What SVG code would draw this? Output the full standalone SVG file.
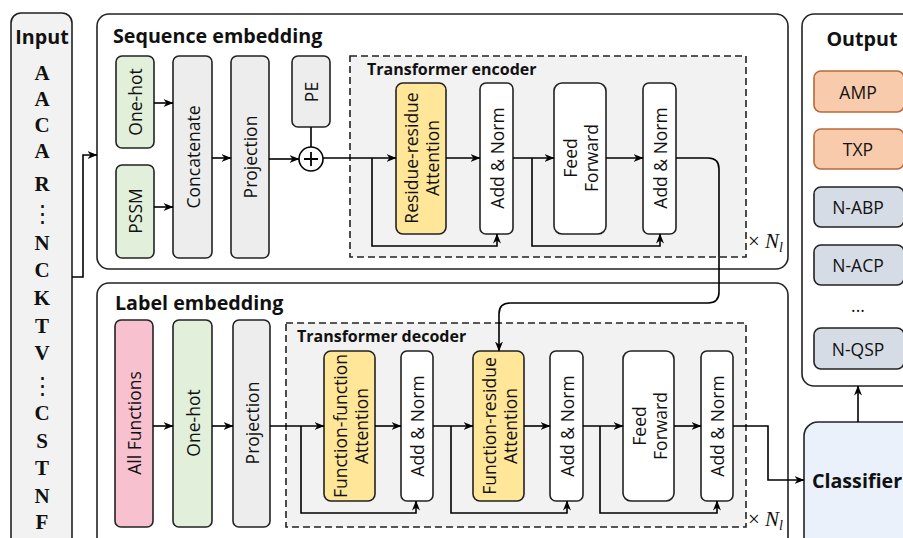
<svg xmlns="http://www.w3.org/2000/svg" width="903" height="538" viewBox="0 0 903 538">
<defs>
<marker id="ah" viewBox="0 0 10 8" refX="9.5" refY="4" markerWidth="10" markerHeight="8" markerUnits="userSpaceOnUse" orient="auto">
<path d="M0,0 L10,4 L0,8 L3,4 z" fill="#000"/>
</marker>
<style>
.panel{fill:#fff;stroke:#222;stroke-width:1.6}
.box{stroke:#222;stroke-width:1.6}
.gray{fill:#ededed}
.green{fill:#e2efda}
.pink{fill:#f8c1d0}
.yellow{fill:#ffe699}
.white{fill:#fff}
.orange{fill:#f8cbad;stroke:#b8683a;stroke-width:1.6}
.bluegray{fill:#d6dce5;stroke:#222;stroke-width:1.6}
.dash{fill:#f2f2f2;stroke:#222;stroke-width:1.6;stroke-dasharray:7,4}
.t{font-family:"Open Sans","Liberation Sans",sans-serif;font-size:17.5px;fill:#111;text-anchor:middle;dominant-baseline:central}
.title{font-family:"Open Sans","Liberation Sans",sans-serif;font-size:19.7px;font-weight:bold;fill:#111}
.sub{font-family:"Open Sans","Liberation Sans",sans-serif;font-size:16px;font-weight:bold;fill:#111}
.aa{font-family:"Liberation Serif","DejaVu Serif",serif;font-size:21px;font-weight:bold;fill:#111;text-anchor:middle;dominant-baseline:central}
.vd{font-family:"DejaVu Serif",serif;font-size:23px;fill:#111;text-anchor:middle;dominant-baseline:central}
.nl{font-family:"Liberation Serif","DejaVu Serif",serif;font-size:21px;fill:#111}
.c{fill:none;stroke:#000;stroke-width:1.6}
</style>
</defs>

<g id="input">
<rect x="11" y="13" width="61" height="540" rx="10" fill="#f2f2f2" stroke="#222" stroke-width="1.6"/>
<text class="title" x="42" y="44" text-anchor="middle">Input</text>
<text class="aa" x="42" y="73">A</text>
<text class="aa" x="42" y="99">A</text>
<text class="aa" x="42" y="125">C</text>
<text class="aa" x="42" y="151">A</text>
<text class="aa" x="42" y="184">R</text>
<text class="vd" x="42" y="213">⋮</text>
<text class="aa" x="42" y="243">N</text>
<text class="aa" x="42" y="270">C</text>
<text class="aa" x="42" y="298">K</text>
<text class="aa" x="42" y="326">T</text>
<text class="aa" x="42" y="353">V</text>
<text class="vd" x="42" y="385">⋮</text>
<text class="aa" x="42" y="413">C</text>
<text class="aa" x="42" y="441">S</text>
<text class="aa" x="42" y="468">T</text>
<text class="aa" x="42" y="496">N</text>
<text class="aa" x="42" y="522">F</text>
</g>

<g id="sequence-embedding">
<rect class="panel" x="97" y="14" width="691" height="255" rx="12"/>
<text class="title" x="113" y="43">Sequence embedding</text>
</g>
<g id="seq-onehot"><rect class="box green" x="116" y="56" width="38" height="92" rx="6"/><text class="t" transform="translate(135,102) rotate(-90)">One-hot</text></g>
<g id="seq-pssm"><rect class="box green" x="116" y="165" width="38" height="93" rx="6"/><text class="t" transform="translate(135,211) rotate(-90)">PSSM</text></g>
<g id="seq-concat"><rect class="box gray" x="173" y="56" width="39" height="202" rx="6"/><text class="t" transform="translate(192.5,157) rotate(-90)">Concatenate</text></g>
<g id="seq-proj"><rect class="box gray" x="231" y="56" width="38" height="202" rx="6"/><text class="t" transform="translate(250,157) rotate(-90)">Projection</text></g>
<g id="seq-pe"><rect class="box gray" x="292" y="56" width="38" height="71" rx="6"/><text class="t" transform="translate(311,92) rotate(-90)">PE</text></g>
<g id="seq-plus"><circle cx="311" cy="159" r="12" fill="#fff" stroke="#000" stroke-width="1.6"/><path d="M304,159 H318 M311,152 V166" stroke="#000" stroke-width="1.8"/></g>

<g id="transformer-encoder">
<rect class="dash" x="350" y="56" width="396" height="201"/>
<text class="sub" x="367" y="75">Transformer encoder</text>
<text class="nl" x="748" y="248">× <tspan font-style="italic">N</tspan><tspan font-style="italic" font-size="14" dy="4">l</tspan></text>
</g>
<g id="enc-attn"><rect class="box yellow" x="396" y="83" width="50" height="151" rx="7"/><text class="t" transform="translate(421,158) rotate(-90)"><tspan x="0" dy="-10">Residue-residue</tspan><tspan x="0" dy="21">Attention</tspan></text></g>
<g id="enc-norm1"><rect class="box white" x="480" y="83" width="33" height="151" rx="6"/><text class="t" transform="translate(496.5,158) rotate(-90)">Add &amp; Norm</text></g>
<g id="enc-ff"><rect class="box white" x="554" y="83" width="52" height="151" rx="8"/><text class="t" transform="translate(580,158) rotate(-90)"><tspan x="0" dy="-10">Feed</tspan><tspan x="0" dy="21">Forward</tspan></text></g>
<g id="enc-norm2"><rect class="box white" x="643" y="83" width="33" height="151" rx="6"/><text class="t" transform="translate(659.5,158) rotate(-90)">Add &amp; Norm</text></g>

<g id="label-embedding">
<rect class="panel" x="97" y="283" width="691" height="270" rx="12"/>
<text class="title" x="115" y="310">Label embedding</text>
</g>
<g id="lab-all"><rect class="box pink" x="115" y="320" width="38" height="207" rx="6"/><text class="t" transform="translate(134,423) rotate(-90)">All Functions</text></g>
<g id="lab-onehot"><rect class="box green" x="173" y="320" width="39" height="207" rx="6"/><text class="t" transform="translate(192.5,423) rotate(-90)">One-hot</text></g>
<g id="lab-proj"><rect class="box gray" x="233" y="320" width="37" height="207" rx="6"/><text class="t" transform="translate(251.5,423) rotate(-90)">Projection</text></g>

<g id="transformer-decoder">
<rect class="dash" x="286" y="323" width="460" height="204"/>
<text class="sub" x="297" y="342">Transformer decoder</text>
<text class="nl" x="748" y="526">× <tspan font-style="italic">N</tspan><tspan font-style="italic" font-size="14" dy="4">l</tspan></text>
</g>
<g id="dec-ffattn"><rect class="box yellow" x="324" y="351" width="51" height="150" rx="7"/><text class="t" transform="translate(349.5,426) rotate(-90)"><tspan x="0" dy="-10">Function-function</tspan><tspan x="0" dy="21">Attention</tspan></text></g>
<g id="dec-norm1"><rect class="box white" x="401" y="351" width="32" height="150" rx="6"/><text class="t" transform="translate(417,426) rotate(-90)">Add &amp; Norm</text></g>
<g id="dec-frattn"><rect class="box yellow" x="473" y="351" width="51" height="150" rx="7"/><text class="t" transform="translate(498.5,426) rotate(-90)"><tspan x="0" dy="-10">Function-residue</tspan><tspan x="0" dy="21">Attention</tspan></text></g>
<g id="dec-norm2"><rect class="box white" x="550" y="351" width="33" height="150" rx="6"/><text class="t" transform="translate(566.5,426) rotate(-90)">Add &amp; Norm</text></g>
<g id="dec-ff"><rect class="box white" x="623" y="351" width="51" height="150" rx="8"/><text class="t" transform="translate(648.5,426) rotate(-90)"><tspan x="0" dy="-10">Feed</tspan><tspan x="0" dy="21">Forward</tspan></text></g>
<g id="dec-norm3"><rect class="box white" x="701" y="351" width="32" height="150" rx="6"/><text class="t" transform="translate(717,426) rotate(-90)">Add &amp; Norm</text></g>

<g id="output">
<rect class="panel" x="802" y="14" width="120" height="372" rx="12"/>
<text class="title" x="862" y="46" text-anchor="middle">Output</text>
</g>
<g id="out-amp"><rect class="orange" x="814" y="71" width="90" height="41" rx="7"/><text class="t" x="858" y="91.5">AMP</text></g>
<g id="out-txp"><rect class="orange" x="814" y="129" width="90" height="40" rx="7"/><text class="t" x="858" y="149">TXP</text></g>
<g id="out-nabp"><rect class="bluegray" x="814" y="187" width="90" height="40" rx="7"/><text class="t" x="858" y="207">N-ABP</text></g>
<g id="out-nacp"><rect class="bluegray" x="814" y="245" width="90" height="40" rx="7"/><text class="t" x="858" y="265">N-ACP</text></g>
<g id="out-dots"><text class="t" x="858" y="305">...</text></g>
<g id="out-nqsp"><rect class="bluegray" x="814" y="328" width="90" height="41" rx="7"/><text class="t" x="858" y="348.5">N-QSP</text></g>

<g id="classifier">
<rect x="804" y="422" width="120" height="130" rx="14" fill="#eaf1fa" stroke="#222" stroke-width="1.6"/>
<text class="title" x="857" y="488" text-anchor="middle" font-size="18">Classifier</text>
</g>

<g id="connectors" class="c">
<path class="c" d="M72,277 H83 V155 H97" marker-end="url(#ah)"/>
<path class="c" d="M154,103 H173" marker-end="url(#ah)"/>
<path class="c" d="M154,207 H173" marker-end="url(#ah)"/>
<path class="c" d="M212,158 H231" marker-end="url(#ah)"/>
<path class="c" d="M269,159 H299" marker-end="url(#ah)"/>
<path class="c" d="M311,127 V147"/>
<path class="c" d="M323,158 H396" marker-end="url(#ah)"/>
<path class="c" d="M372,158 V246 H497 V234" marker-end="url(#ah)"/>
<path class="c" d="M446,158 H480" marker-end="url(#ah)"/>
<path class="c" d="M513,158 H554" marker-end="url(#ah)"/>
<path class="c" d="M532,158 V246 H660 V234" marker-end="url(#ah)"/>
<path class="c" d="M606,158 H643" marker-end="url(#ah)"/>
<path class="c" d="M676,158 H708 Q719,158 719,169 V292 Q719,303 708,303 H510 Q499,303 499,314 V351" marker-end="url(#ah)"/>
<path class="c" d="M153,426 H173" marker-end="url(#ah)"/>
<path class="c" d="M212,426 H233" marker-end="url(#ah)"/>
<path class="c" d="M270,426 H324" marker-end="url(#ah)"/>
<path class="c" d="M301,426 V513 H416 V501" marker-end="url(#ah)"/>
<path class="c" d="M375,426 H401" marker-end="url(#ah)"/>
<path class="c" d="M433,426 H473" marker-end="url(#ah)"/>
<path class="c" d="M451,426 V513 H567 V501" marker-end="url(#ah)"/>
<path class="c" d="M524,426 H550" marker-end="url(#ah)"/>
<path class="c" d="M583,426 H623" marker-end="url(#ah)"/>
<path class="c" d="M600,426 V513 H717 V501" marker-end="url(#ah)"/>
<path class="c" d="M674,426 H701" marker-end="url(#ah)"/>
<path class="c" d="M733,426 H768 V480 H804" marker-end="url(#ah)"/>
<path class="c" d="M858,422 V386" marker-end="url(#ah)"/>
</g>
</svg>
